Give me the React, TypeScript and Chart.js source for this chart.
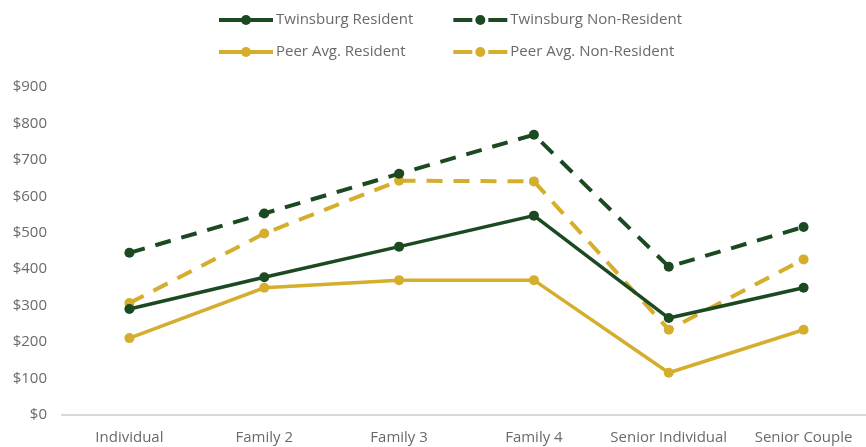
import React, { useEffect, useRef } from "react";
import { Chart, registerables } from "chart.js";

Chart.register(...registerables);

const categories = ["Individual", "Family 2", "Family 3", "Family 4", "Senior Individual", "Senior Couple"];
const twinsburgResident = [291, 378, 462, 547, 266, 349];
const twinsburgNonResident = [445, 553, 662, 769, 407, 516];
const peerResident = [211, 349, 370, 370, 116, 234];
const peerNonResident = [307, 498, 643, 641, 234, 427];
const seriesLabels = ["Twinsburg Resident", "Twinsburg Non-Resident", "Peer Avg. Resident", "Peer Avg. Non-Resident"];
const yMin = 0;
const yMax = 900;
const yStep = 100;

const GREEN = "#1b4a22";
const GOLD = "#d4ae2c";
const TEXT = "#6a6a6a";
const FONT = '"Open Sans", "Liberation Sans", sans-serif';

const legendPlugin = {
  id: "customLegend",
  afterDraw(chart: any) {
    const ctx = chart.ctx as CanvasRenderingContext2D;
    const ds = chart.data.datasets;
    ctx.save();
    ctx.font = `15px ${FONT}`;
    ctx.textBaseline = "middle";
    const markerW = 54;
    const gapText = 3;
    const colGap = 40;
    const left = 219;
    const rowY = [20, 52];
    let col0 = 0;
    ds.forEach((d: any, i: number) => {
      if (i % 2 === 0) col0 = Math.max(col0, ctx.measureText(d.label).width);
    });
    const colX = [left, left + markerW + gapText + col0 + colGap];
    ds.forEach((d: any, i: number) => {
      const x = colX[i % 2];
      const y = rowY[Math.floor(i / 2)];
      const color = d.borderColor;
      ctx.strokeStyle = color;
      ctx.fillStyle = color;
      ctx.lineWidth = 4;
      ctx.lineCap = "butt";
      ctx.beginPath();
      if (d.borderDash && d.borderDash.length) {
        ctx.moveTo(x, y);
        ctx.lineTo(x + 19, y);
        ctx.moveTo(x + 35, y);
        ctx.lineTo(x + markerW, y);
      } else {
        ctx.moveTo(x, y);
        ctx.lineTo(x + markerW, y);
      }
      ctx.stroke();
      ctx.beginPath();
      ctx.arc(x + markerW / 2, y, 5, 0, Math.PI * 2);
      ctx.fill();
      ctx.fillStyle = TEXT;
      ctx.textAlign = "left";
      ctx.fillText(d.label, x + markerW + gapText, y);
    });
    ctx.restore();
  },
};

export default function App() {
  const ref = useRef<HTMLCanvasElement | null>(null);

  useEffect(() => {
    if (!ref.current) return;
    const mk = (label: string, data: number[], color: string, dashed: boolean) => ({
      label,
      data,
      borderColor: color,
      backgroundColor: color,
      pointBackgroundColor: color,
      pointBorderColor: color,
      pointBorderWidth: 0,
      pointRadius: 5,
      borderWidth: dashed ? 4 : 3.5,
      borderDash: dashed ? [16, 11] : [],
      tension: 0,
      fill: false,
    });
    const chart = new Chart(ref.current, {
      type: "line",
      data: {
        labels: categories,
        datasets: [
          mk(seriesLabels[0], twinsburgResident, GREEN, false),
          mk(seriesLabels[1], twinsburgNonResident, GREEN, true),
          mk(seriesLabels[2], peerResident, GOLD, false),
          mk(seriesLabels[3], peerNonResident, GOLD, true),
        ],
      },
      options: {
        animation: false,
        responsive: true,
        maintainAspectRatio: false,
        devicePixelRatio: 1,
        layout: { padding: { top: 87, left: 13, right: 0, bottom: 0 } },
        plugins: {
          legend: { display: false },
          tooltip: { enabled: false },
          title: { display: false },
        },
        scales: {
          x: {
            type: "category",
            offset: true,
            grid: { display: false, drawTicks: false },
            border: { display: true, color: "#d9d9d9", width: 2 },
            ticks: {
              color: TEXT,
              font: { family: FONT, size: 15 },
              padding: 14,
              maxRotation: 0,
              autoSkip: false,
            },
            afterFit: (scale: any) => {
              scale.height = 32;
            },
          },
          y: {
            min: yMin,
            max: yMax,
            grid: { display: false, drawTicks: false },
            border: { display: false },
            ticks: {
              stepSize: yStep,
              padding: 15,
              color: TEXT,
              font: { family: FONT, size: 15 },
              callback: (v: any) => "$" + v,
            },
            afterFit: (scale: any) => {
              scale.width = 49;
            },
          },
        },
      },
      plugins: [legendPlugin],
    });
    return () => chart.destroy();
  }, []);

  return (
    <div style={{ position: "fixed", left: 0, top: 0, width: 866, height: 447, overflow: "hidden", background: "#fff" }}>
      <div style={{ position: "absolute", left: 0, top: 0, width: 876, height: 447 }}>
        <canvas ref={ref} />
      </div>
    </div>
  );
}
